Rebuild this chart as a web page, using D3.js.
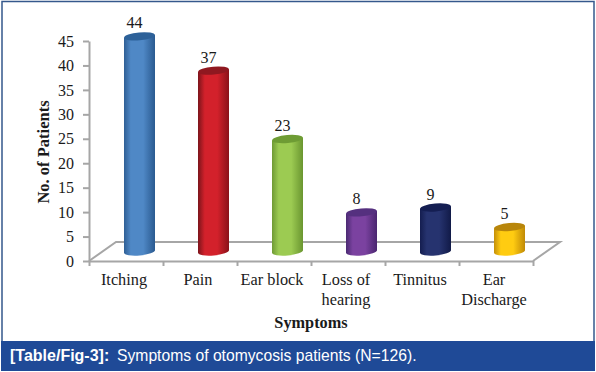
<!DOCTYPE html>
<html>
<head>
<meta charset="utf-8">
<script src="https://cdn.jsdelivr.net/npm/d3@7"></script>
<style>
  html, body { margin: 0; padding: 0; background: #fff; }
  svg { display: block; }
  .serif { font-family: "Liberation Serif", serif; fill: #1a1a1a; }
  .axis path, .axis line { stroke: #a6a6a6; stroke-width: 2; }
</style>
</head>
<body>
<svg id="chart" width="596" height="372"></svg>
<script>
// values
const symptoms = [['Itching'], ['Pain'], ['Ear block'], ['Loss of', 'hearing'], ['Tinnitus'], ['Ear', 'Discharge']];
const patients = [44, 37, 23, 8, 9, 5];
const barColors = [
  ['#2f5f95', '#4f88c6', '#2a5a90', '#2d6199'],
  ['#7c141b', '#d3212b', '#8a1219', '#8f1820'],
  ['#6f9a35', '#9ccb52', '#6a9630', '#6e9c34'],
  ['#4a2a72', '#7b42a0', '#4a2670', '#55307f'],
  ['#141d4f', '#26336f', '#111a48', '#141e52'],
  ['#c48f08', '#ffcc11', '#c08a06', '#b8860b']
];
const yTicks = [0, 5, 10, 15, 20, 25, 30, 35, 40, 45];

const svg = d3.select('#chart');
const defs = svg.append('defs');

const y = d3.scaleLinear().domain([0, 45]).range([261, 41]);
const x = d3.scaleBand().domain(d3.range(symptoms.length)).range([89, 533]);
const xEdge = d3.scaleLinear().domain([0, 6]).range([89, 533]);

// depth of the 3d floor
const depthX = 27, depthY = 19;
const barW = 31, ry = 4, tilt = -5;

// outer frame and caption band
svg.append('rect').attr('x', 2).attr('y', 1.5).attr('width', 592).attr('height', 345)
  .attr('fill', '#fff').attr('stroke', '#35588c').attr('stroke-width', 1.5);
svg.append('rect').attr('x', 1).attr('y', 341).attr('width', 594).attr('height', 30).attr('fill', '#1f4a97');

const caption = svg.append('text').attr('x', 10).attr('y', 361)
  .attr('fill', '#fff').style('font-family', '"Liberation Sans", sans-serif').style('font-size', '15.7px');
caption.append('tspan').attr('font-weight', 'bold').style('font-size', '16px').text('[Table/Fig-3]:');
caption.append('tspan').attr('x', 117).text('Symptoms of otomycosis patients (N=126).');

// floor
svg.append('path')
  .attr('d', d3.line()([[xEdge(0), y(0)], [xEdge(0) + depthX, y(0) - depthY], [xEdge(6) + depthX, y(0) - depthY], [xEdge(6), y(0)]]))
  .attr('fill', 'none').attr('stroke', '#a6a6a6').attr('stroke-width', 2);

// axes
svg.append('g').attr('class', 'axis').attr('transform', 'translate(89,0)')
  .call(d3.axisLeft(y).tickValues(yTicks).tickSize(6).tickSizeOuter(0))
  .call(g => g.selectAll('text').attr('class', 'serif').attr('x', -15).style('font-size', '16px').style('font-family', '"Liberation Serif", serif').attr('fill', '#1a1a1a'));

svg.append('g').attr('class', 'axis').attr('transform', `translate(0,${y(0)})`)
  .call(d3.axisBottom(xEdge).tickValues(d3.range(7)).tickSize(5).tickSizeOuter(0).tickFormat(''));

// cylinders
patients.forEach((v, i) => {
  const cx = x(i) + x.bandwidth() / 2 + depthX / 2;
  const baseY = y(0) - depthY / 2;
  const topY = baseY - (y(0) - y(v));
  const left = cx - barW / 2, right = cx + barW / 2;
  const slope = Math.tan(tilt * Math.PI / 180) * barW / 2;
  const [dark, light, edge, cap] = barColors[i];

  const grad = defs.append('linearGradient').attr('id', 'bar' + i);
  grad.append('stop').attr('offset', '0%').attr('stop-color', dark);
  grad.append('stop').attr('offset', '22%').attr('stop-color', light);
  grad.append('stop').attr('offset', '62%').attr('stop-color', light);
  grad.append('stop').attr('offset', '100%').attr('stop-color', edge);

  const g = svg.append('g');
  g.append('path')
    .attr('d', `M${left},${topY - slope}L${left},${baseY - slope}A${barW / 2},${ry} ${tilt} 0 0 ${right},${baseY + slope}L${right},${topY + slope}Z`)
    .attr('fill', `url(#bar${i})`);
  g.append('ellipse')
    .attr('cx', cx).attr('cy', topY).attr('rx', barW / 2).attr('ry', ry)
    .attr('transform', `rotate(${tilt} ${cx} ${topY})`)
    .attr('fill', cap);

  g.append('text').attr('class', 'serif')
    .attr('x', cx - 5).attr('y', topY - 8)
    .attr('text-anchor', 'middle').style('font-size', '16px')
    .text(v);

  // category label, one or two lines
  symptoms[i].forEach((line, k) => {
    svg.append('text').attr('class', 'serif')
      .attr('x', x(i) + x.bandwidth() / 2 - 2).attr('y', 285 + k * 20)
      .attr('text-anchor', 'middle').style('font-size', '16.3px')
      .text(line);
  });
});

// axis titles
svg.append('text').attr('class', 'serif')
  .attr('transform', 'translate(49,152) rotate(-90)')
  .attr('text-anchor', 'middle').attr('font-weight', 'bold').style('font-size', '16.5px')
  .text('No. of Patients');

svg.append('text').attr('class', 'serif')
  .attr('x', 311).attr('y', 328)
  .attr('text-anchor', 'middle').attr('font-weight', 'bold').style('font-size', '16.3px')
  .text('Symptoms');
</script>
</body>
</html>
